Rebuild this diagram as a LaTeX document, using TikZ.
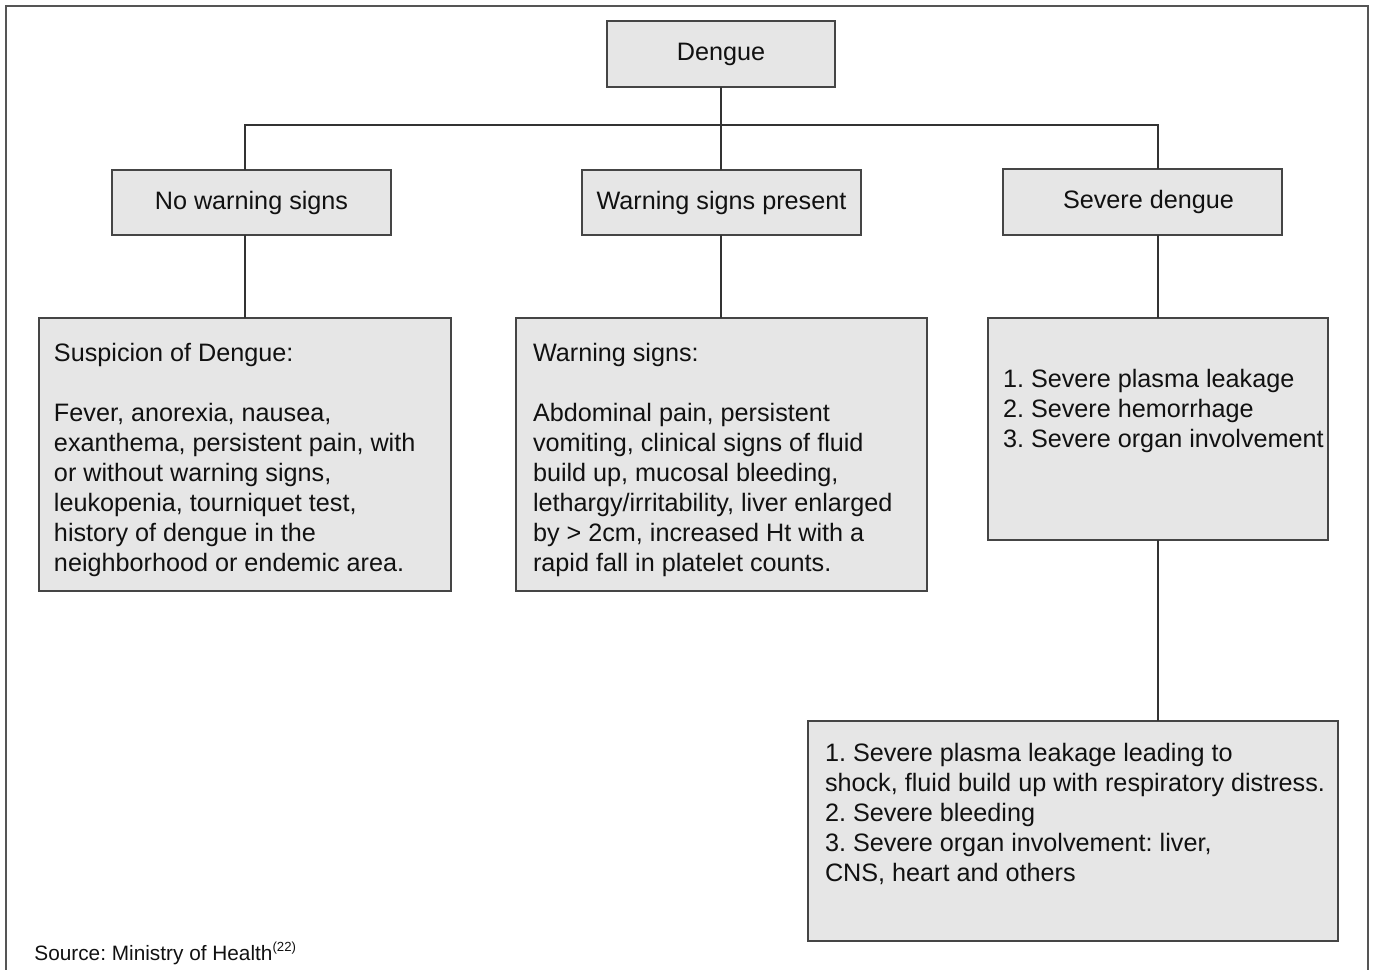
\documentclass[tikz,border=0pt]{standalone}
\usepackage{fontspec}
\setmainfont{Liberation Sans}
\frenchspacing
\definecolor{boxfill}{HTML}{E6E6E6}
\definecolor{boxline}{HTML}{454545}
\definecolor{linkline}{HTML}{333333}
\definecolor{txt}{HTML}{111111}
\definecolor{frameline}{HTML}{555555}
\tikzset{
  box/.style={draw=boxline, fill=boxfill, line width=0.65pt, anchor=north west,
    inner sep=0pt, outer sep=0pt, text=txt,
    font=\fontsize{12.6pt}{15.05pt}\selectfont, text height=9pt, text depth=2.5pt},
  bodytext/.style={anchor=base west, inner sep=0pt, outer sep=0pt, align=left,
    text=txt, font=\fontsize{12.6pt}{15.05pt}\selectfont\frenchspacing},
  link/.style={draw=linkline, line width=0.6pt},
  frame/.style={draw=frameline, line width=0.7pt}
}
\begin{document}
\begin{tikzpicture}[x=0.5pt,y=-0.5pt]
\useasboundingbox (0,0) rectangle (1373,970);
\draw[frame] (6,970) -- (6,6) -- (1368,6) -- (1368,970);

\node[box, minimum width=114pt, minimum height=33pt] (dengue) at (607,21) {Dengue};
\node[box, minimum width=139.5pt, minimum height=32.5pt] (nws) at (112,170) {No warning signs};
\node[box, minimum width=139.5pt, minimum height=32.5pt] (wsp) at (582,170) {Warning signs present};
\node[box, minimum width=139.5pt, minimum height=33pt] (sev) at (1003,169) {\hspace{6pt}Severe dengue};

\node[box, minimum width=206pt, minimum height=136.5pt] (b1) at (39,318) {};
\node[box, minimum width=205.5pt, minimum height=136.5pt] (b2) at (516,318) {};
\node[box, minimum width=170pt, minimum height=111pt] (b3) at (988,318) {};
\node[box, minimum width=265pt, minimum height=110pt] (b4) at (808,721) {};

\node[bodytext] (t1) at (54,571.7) {Suspicion of Dengue:\\[15.05pt]
Fever, anorexia, nausea,\\
exanthema, persistent pain, with\\
or without warning signs,\\
leukopenia, tourniquet test,\\
history of dengue in the\\
neighborhood or endemic area.};

\node[bodytext] (t2) at (533,571.7) {Warning signs:\\[15.05pt]
Abdominal pain, persistent\\
vomiting, clinical signs of fluid\\
build up, mucosal bleeding,\\
lethargy/irritability, liver enlarged\\
by > 2cm, increased Ht with a\\
rapid fall in platelet counts.};

\node[bodytext] (t3) at (1003,447.5) {1. Severe plasma leakage\\
2. Severe hemorrhage\\
3. Severe organ involvement};

\node[bodytext] (t4) at (825,881.7) {1. Severe plasma leakage leading to\\
shock, fluid build up with respiratory distress.\\
2. Severe bleeding\\
3. Severe organ involvement: liver,\\
CNS, heart and others};

\node[anchor=base west, inner sep=0pt, text=txt, font=\fontsize{10.4pt}{12pt}\selectfont] (src) at (34,960)
  {Source: Ministry of Health\raisebox{0.42em}{\fontsize{6.6pt}{7pt}\selectfont(22)}};

\coordinate (busL) at (b1.north |- 0,125);
\coordinate (busR) at (b3.north |- 0,125);
\coordinate (busM) at (dengue.south |- 0,125);
\draw[link] (busL |- nws.north) -- (busL) -- (busR) -- (busR |- sev.north);
\draw[link] (dengue.south) -- (dengue.south |- wsp.north);
\draw[link] (nws.south -| busL) -- (b1.north);
\draw[link] (wsp.south -| busM) -- (b2.north -| busM);
\draw[link] (sev.south -| busR) -- (b3.north);
\draw[link] (b3.south) -- (b3.south |- b4.north);
\end{tikzpicture}
\end{document}
